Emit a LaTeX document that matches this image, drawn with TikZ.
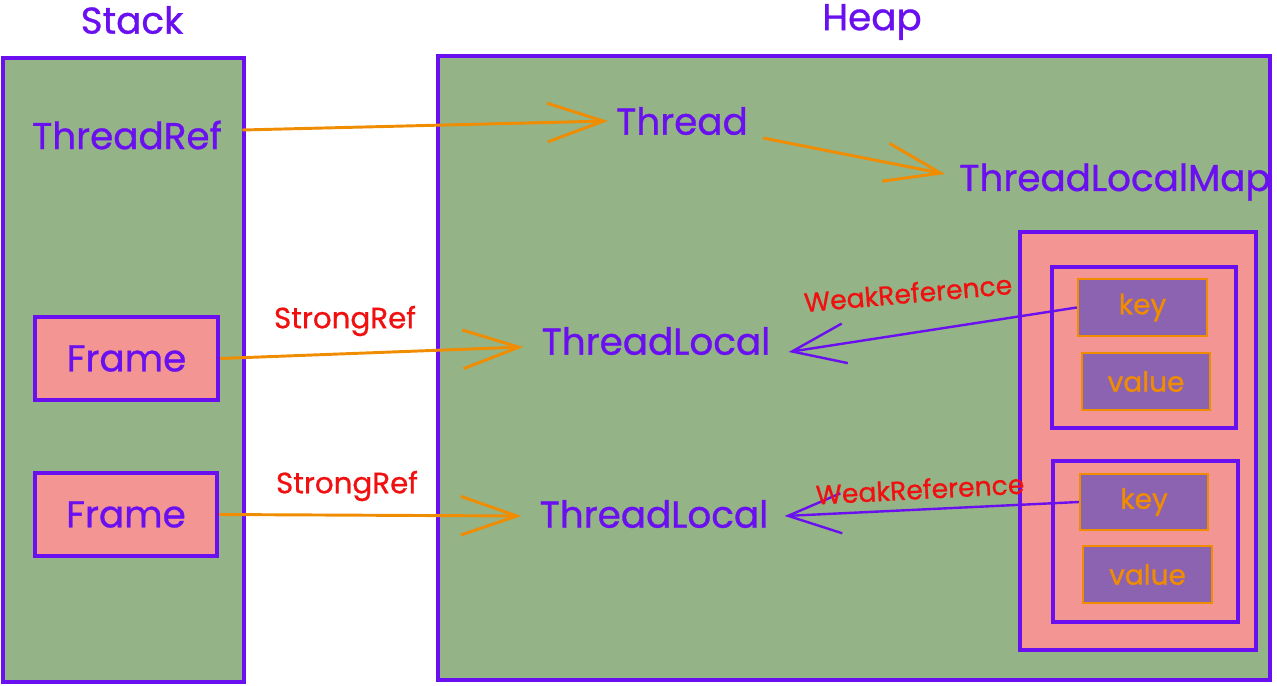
\documentclass[tikz,border=0pt]{standalone}
\usepackage{fontspec}
\setmainfont{Poppins}[FakeBold=0.8]
\usetikzlibrary{arrows.meta,fit}
\definecolor{vio}{HTML}{6A10F0}
\definecolor{grn}{HTML}{94B387}
\definecolor{pnk}{HTML}{F29593}
\definecolor{prp}{HTML}{8C63B1}
\definecolor{org}{HTML}{F08C00}
\definecolor{rd}{HTML}{F01010}
\begin{document}
\begin{tikzpicture}[x=0.75pt,y=-0.75pt,
  area/.style={draw=vio, line width=3.4pt, fill=grn, inner sep=0pt},
  framebox/.style={draw=vio, line width=3.4pt, fill=pnk, inner sep=0pt},
  entrybox/.style={draw=vio, line width=3.4pt, inner sep=0pt},
  kvbox/.style={draw=org, line width=1.8pt, fill=prp, inner sep=0pt},
  kvtext/.style={text=org, font=\fontsize{21}{24}\selectfont, inner sep=0pt},
  lbl/.style={text=vio, font=\fontsize{28}{32}\selectfont, inner sep=0pt},
  reflbl/.style={text=rd, inner sep=0pt},
  strong/.style={draw=org, line width=2.2pt, -{Straight Barb[length=42pt,width=29pt,line width=2.2pt]}},
  weak/.style={draw=vio, line width=1.8pt, -{Straight Barb[length=40pt,width=30pt,line width=1.8pt]}},
]
\useasboundingbox (0,0) rectangle (1277,685);
% areas
\node[area, fit={(3,58)(244,682)}] (stack) {};
\node[area, fit={(438,56)(1270,680)}] (heap) {};
\node[lbl] (stacklbl) at (132,20) {Stack};
\node[lbl] (heaplbl) at (872,22) {Heap};
% heap objects
\node[lbl] (threadref) at (127,135) {ThreadRef};
\node[lbl] (thread) at (682,121) {Thread};
\node[lbl] (tlm) at (1115,182) {ThreadLocalMap};
% frames
\node[framebox, fit={(35,317)(218,400)}] (frame1) {};
\node[lbl] (frame1txt) at (frame1.center) {Frame};
\node[framebox, fit={(35,473)(217,556)}] (frame2) {};
\node[lbl] (frame2txt) at (frame2.center) {Frame};
% thread locals
\node[lbl] (tl1) at (656,341) {ThreadLocal};
\node[lbl] (tl2) at (654,514) {ThreadLocal};
% map
\node[framebox, fit={(1020,232)(1256,650)}] (map) {};
\node[entrybox, fit={(1052,267)(1236,428)}] (entry1) {};
\node[kvbox, fit={(1078,279)(1207,336)}] (key1) {};
\node[kvtext] (key1txt) at (key1.center) {key};
\node[kvbox, fit={(1082,353)(1210,410)}] (val1) {};
\node[kvtext] (val1txt) at (val1.center) {value};
\node[entrybox, fit={(1053,461)(1238,622)}] (entry2) {};
\node[kvbox, fit={(1080,474)(1208,530)}] (key2) {};
\node[kvtext] (key2txt) at (key2.center) {key};
\node[kvbox, fit={(1083,546)(1212,603)}] (val2) {};
\node[kvtext] (val2txt) at (val2.center) {value};
% connectors
\draw[strong] ([shift={(-4,-5)}]stack.east |- threadref.east) -- ([shift={(-8,0)}]thread.west);
\draw[strong] ([shift={(15,17)}]thread.east) -- ([shift={(-14,-8)}]tlm.west);
\draw[strong] (frame1.east) -- ([shift={(-18,6)}]tl1.west);
\draw[strong] (frame2.east) -- ([shift={(-18,2)}]tl2.west);
\draw[weak] (key1.west) -- ([shift={(18,11)}]tl1.east);
\draw[weak] (key2.west) -- ([shift={(16,2)}]tl2.east);
% labels
\node[reflbl, font=\fontsize{22}{26}\selectfont] (sr1) at (345,321) {StrongRef};
\node[reflbl, font=\fontsize{22}{26}\selectfont] (sr2) at (347,486) {StrongRef};
\node[reflbl, font=\fontsize{20}{24}\selectfont, rotate=5] (wr1) at (908,293) {WeakReference};
\node[reflbl, font=\fontsize{20}{24}\selectfont, rotate=3] (wr2) at (920,489) {WeakReference};
\end{tikzpicture}
\end{document}
